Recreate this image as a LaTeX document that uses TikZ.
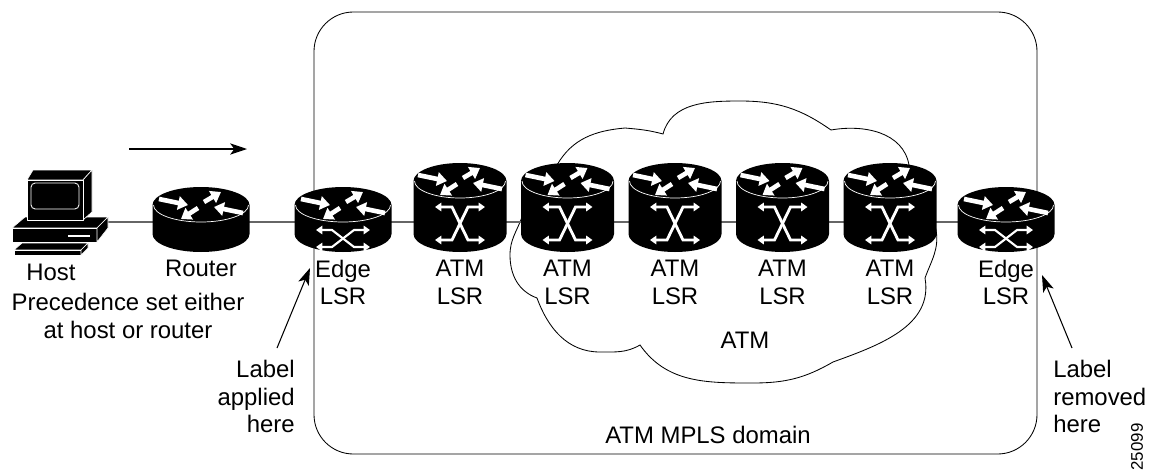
\documentclass[tikz,border=0pt]{standalone}
\usepackage{fontspec}
\setmainfont{Liberation Sans}
\usetikzlibrary{positioning, arrows.meta}

\tikzset{
  lbl/.style={font=\fontsize{17}{19.5}\selectfont, inner sep=0pt, align=center},
  pointer/.style={line width=0.75pt, -{Stealth[length=12pt,width=8pt,inset=3pt]}},
  face/.style={fill=black, draw=white, line width=0.45pt, line join=round},
  disc arrow/.style={white, line width=3.3pt, -{Triangle[length=7pt,width=9.5pt]}},
  xbar/.style={white, line width=1.5pt, {Triangle[length=4.5pt,width=6pt]}-{Triangle[length=4.5pt,width=6pt]}},
  % black drum: #1 = radius, #2 = wall height, base sits 12 below the origin
  pics/drum/.style 2 args={code={
    \fill[black] (-#1,-12) -- (-#1,#2-12) arc[start angle=180,end angle=0,x radius=#1,y radius=18]
      -- (#1,-12) arc[start angle=0,end angle=-180,x radius=#1,y radius=18] -- cycle;
    \draw[white, line width=0.5pt] (-#1+1,#2-12) arc[start angle=180,end angle=360,x radius=#1-1,y radius=17];
    \begin{scope}[shift={(0,#2-12)}]
      \draw[disc arrow] (-42,6) -- (-13,0);
      \draw[disc arrow] (42,-8) -- (13,-2);
      \draw[disc arrow] (3,3) -- (20,13);
      \draw[disc arrow] (-3,-3) -- (-20,-14);
    \end{scope}
  }},
  pics/router/.style={code={\pic {drum={48.5}{29}};}},
  pics/edge lsr/.style={code={
    \pic {drum={48.5}{29}};
    \draw[xbar] (-27,-8) -- (-11,-8) -- (11,-25) -- (27,-25);
    \draw[xbar] (-27,-25) -- (-11,-25) -- (11,-8) -- (27,-8);
  }},
  pics/atm lsr/.style={code={
    \pic {drum={46.5}{53}};
    \draw[xbar, line width=2pt] (-25,15) -- (-8,15) -- (8,-18) -- (25,-18);
    \draw[xbar, line width=2pt] (-25,-18) -- (-8,-18) -- (8,15) -- (25,15);
  }},
}

\begin{document}
\begin{tikzpicture}[x=0.025cm, y=0.025cm]
  \useasboundingbox (0,0) rectangle (1157,470);

  % MPLS domain and the ATM cloud
  \draw[line width=0.6pt, rounded corners=28pt] (314,16) rectangle (1037,458);
  \draw[line width=0.6pt] (557,305) to[out=60,in=185] (625,342) to[out=-5,in=165] (663,336)
    to[out=75,in=180] (740,369) to[out=0,in=145] (831,340)
    to[out=10,in=100] (909,305)
    to[out=-80,in=100] (936,240) to[out=-80,in=70] (925,192)
    to[out=-80,in=20] (833,108)
    to[out=-150,in=0] (753,87) to[out=180,in=-55] (640,125)
    to[out=-150,in=0] (600,118) to[out=180,in=-70] (537,172)
    to[out=160,in=-90] (510,215) to[out=90,in=-110] (522,253)
    to[out=70,in=-100] (557,305);

  % devices along the path
  \coordinate (host) at (106,248);
  \coordinate (rtr) at (201,248);
  \coordinate (e1) at (343,248);
  \foreach \i in {1,...,5}
    \coordinate (a\i) at ({460+107.5*(\i-1)},248);
  \coordinate (e2) at (1006,248);

  \draw[black!60, line width=0.8pt] (host) -- (e2);

  \pic at (rtr) {router};
  \pic at (e1) {edge lsr};
  \foreach \i in {1,...,5}
    \pic at (a\i) {atm lsr};
  \pic at (e2) {edge lsr};

  % host
  \filldraw[face] (12,242) -- (25,253) -- (108,253) -- (97,242) -- cycle;
  \filldraw[face] (12,228) rectangle (97,242);
  \filldraw[face] (97,242) -- (108,253) -- (108,242) -- (97,228) -- cycle;
  \draw[white, line width=0.8pt] (68,234) -- (90,234);
  \filldraw[face] (27,290) -- (33,300) -- (92,300) -- (83,290) -- cycle;
  \filldraw[face] (83,290) -- (92,300) -- (92,258) -- (83,250) -- cycle;
  \filldraw[face] (27,250) rectangle (83,290);
  \draw[white, line width=0.6pt, rounded corners=3pt] (31,261) rectangle (79,287);
  \filldraw[face] (14,220) -- (22,227) -- (88,227) -- (81,220) -- cycle;
  \filldraw[face] (14,215) rectangle (81,220);
  \filldraw[face] (81,215) -- (81,220) -- (88,227) -- (88,222) -- cycle;

  % labels
  \node[lbl, anchor=north] (host lbl) at (51,206) {Host};
  \node[lbl] (rtr lbl) [below=27pt of rtr] {Router};
  \node[lbl] (e1 lbl) [below=27pt of e1] {Edge\\LSR};
  \foreach \i in {1,...,5}
    \node[lbl] (a\i lbl) [below=27pt of a\i] {ATM\\LSR};
  \node[lbl] (e2 lbl) [below=27pt of e2] {Edge\\LSR};
  \node[lbl, anchor=north] (prec) at (128,177) {Precedence set either\\at host or router};
  \node[lbl, anchor=north east, align=right] (applied) at (295,110) {Label\\applied\\here};
  \node[lbl, anchor=north west, align=left] (removed) at (1053,110) {Label\\removed\\here};
  \node[lbl, anchor=north] (cloud lbl) at (745,138) {ATM};
  \node[lbl, anchor=north] (domain lbl) at (708,44) {ATM MPLS domain};
  \node[font=\fontsize{12}{14}\selectfont, rotate=90, inner sep=0pt] (fig no) at (1137,23) {25099};

  % arrows
  \coordinate (flow tail) at (129,321);
  \coordinate (flow head) at (247,321);
  \draw[pointer] (flow tail) -- (flow head);
  \coordinate (apply tail) at (277,122);
  \coordinate (apply tip) at (310,202);
  \draw[pointer] (apply tail) -- (apply tip);
  \coordinate (remove tail) at (1072,122);
  \coordinate (remove tip) at (1042,195);
  \draw[pointer] (remove tail) -- (remove tip);
\end{tikzpicture}
\end{document}
